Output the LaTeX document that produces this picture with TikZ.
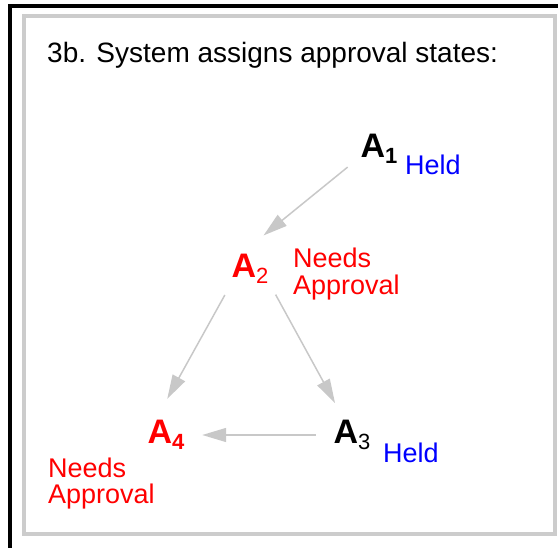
\documentclass[tikz,border=0pt]{standalone}
\usepackage{fontspec}
\setmainfont{Liberation Sans}
\usepackage{tikz}
\usetikzlibrary{arrows.meta,positioning}
\definecolor{HeldBlue}{HTML}{0000FF}
\definecolor{NeedRed}{HTML}{FF0000}
\definecolor{ArrGray}{HTML}{C8C8C8}
\definecolor{FrameGray}{HTML}{CCCCCC}
\newcommand{\sbx}[1]{\raisebox{-6pt}{\fontsize{22}{22}\selectfont #1}}
\tikzset{
  titulo/.style  = {anchor=base west, inner sep=0pt, font=\fontsize{28}{28}\selectfont},
  act/.style     = {circle, minimum size=72pt, inner sep=0pt,
                    font=\fontsize{34}{34}\selectfont\bfseries},
  held/.style    = {anchor=base west, inner sep=0pt, text=HeldBlue,
                    font=\fontsize{27}{28}\selectfont},
  needs/.style   = {anchor=base west, inner sep=0pt, align=left, text=NeedRed,
                    font=\fontsize{27}{27}\selectfont},
  flecha/.style  = {draw=ArrGray, line width=1.5pt,
                    -{Triangle[length=24pt,width=14pt]}},
}
\begin{document}
\begin{tikzpicture}[x=1pt,y=-1pt]
  \useasboundingbox (0,0) rectangle (558,548);
  % frame
  \draw[black, line width=4pt] (10,548) -- (10,6) -- (558,6);
  \draw[FrameGray, line width=4pt] (24,16.5) rectangle (555,534);

  \node[titulo] (tit) at (47,63) {3b. System assigns approval states:};

  \node[act] (a1) at (379,149) {A\sbx{1}};
  \node[act, text=NeedRed] (a2) at (250,269) {A\sbx{\mdseries 2}};
  \node[act] (a3) at (352,435) {A\sbx{\mdseries 3}};
  \node[act, text=NeedRed] (a4) at (166,435) {A\sbx{4}};

  \node[held] (h1) at (405,175) {Held};
  \node[needs] (n2) at (293,295) {Needs\\Approval};
  \node[held] (h3) at (383,463) {Held};
  \node[needs] (n4) at (48,504) {Needs\\Approval};

  \draw[flecha] (a1.210) -- (a2.68);
  \draw[flecha] (a2.226) -- (a4.88);
  \draw[flecha] (a2.315) -- (a3.118);
  \draw[flecha] (a3.180) -- (a4.0);
\end{tikzpicture}
\end{document}
